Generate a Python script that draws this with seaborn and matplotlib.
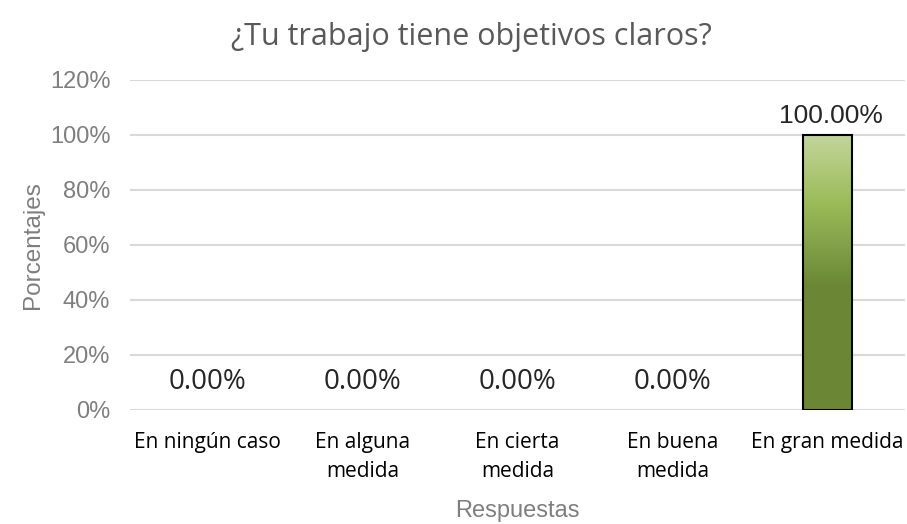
import numpy as np
import pandas as pd
import seaborn as sns
import matplotlib.pyplot as plt
from matplotlib.colors import LinearSegmentedColormap

respuestas = ['En ningún caso', 'En alguna\nmedida', 'En cierta\nmedida', 'En buena\nmedida', 'En gran medida']
porcentajes = [0.0, 0.0, 0.0, 0.0, 100.0]
y_ticks = [0, 20, 40, 60, 80, 100, 120]

df = pd.DataFrame({'respuesta': respuestas, 'pct': porcentajes})

sns.set_style('white')
plt.rcParams['font.family'] = ['Liberation Sans', 'DejaVu Sans']

fig = plt.figure(figsize=(9.07, 5.24), dpi=100)
ax = fig.add_axes([0.143, 0.2176, 0.855, 0.63])

sns.barplot(data=df, x='respuesta', y='pct', ax=ax, width=0.32,
            color='#77933c', edgecolor='black', linewidth=1.5, zorder=3)

ax.set_ylim(0, 120)
ax.set_xlim(-0.5, len(respuestas) - 0.5)
ax.set_yticks(y_ticks)
ax.set_yticklabels([f'{t}%' for t in y_ticks], fontsize=17, color='#7f7f7f')
ax.yaxis.grid(True, color='#d9d9d9', linewidth=1.5, zorder=0)
ax.set_axisbelow(True)
ax.tick_params(axis='both', length=0)
ax.tick_params(axis='y', pad=14)
ax.tick_params(axis='x', pad=16)
for lbl in ax.get_xticklabels():
    lbl.set_family(['Open Sans', 'DejaVu Sans'])
    lbl.set_fontsize(15)
    lbl.set_color('black')
    lbl.set_linespacing(1.5)
for s in ax.spines.values():
    s.set_visible(False)

# gradient fill, no outline on empty bars
grad = LinearSegmentedColormap.from_list('g', [(0.0, '#6b8736'), (0.45, '#6b8736'),
                                               (0.75, '#9bbb59'), (1.0, '#c3d69b')])
for p in ax.patches:
    h = p.get_height()
    if h <= 0:
        p.set_visible(False)
        continue
    x0 = p.get_x()
    img = ax.imshow(np.linspace(0, 1, 256).reshape(-1, 1), cmap=grad, origin='lower',
                    extent=[x0, x0 + p.get_width(), 0, h], aspect='auto', zorder=2.5)
    img.set_clip_path(p)
    p.set_facecolor('none')
ax.set_xlim(-0.5, len(respuestas) - 0.5)
ax.set_ylim(0, 120)

for i, v in enumerate(porcentajes):
    if v > 0:
        ax.text(i + 0.02, v + 2.5, f'{v:.2f}%', ha='center', va='bottom', fontsize=19,
                family=['Liberation Sans', 'DejaVu Sans'])
    else:
        ax.text(i, v + 5, f'{v:.2f}%', ha='center', va='bottom', fontsize=20,
                family=['Open Sans', 'DejaVu Sans'])

ax.set_xlabel('Respuestas', fontsize=17, color='#7f7f7f')
ax.xaxis.set_label_coords(0.5, -0.272)
ax.set_ylabel('Porcentajes', fontsize=17.5, color='#7f7f7f', labelpad=4)
fig.suptitle('¿Tu trabajo tiene objetivos claros?', x=0.52, y=0.958, fontsize=22,
             color='#595959', family=['Open Sans', 'DejaVu Sans'])

fig.savefig('out.png', dpi=100)
